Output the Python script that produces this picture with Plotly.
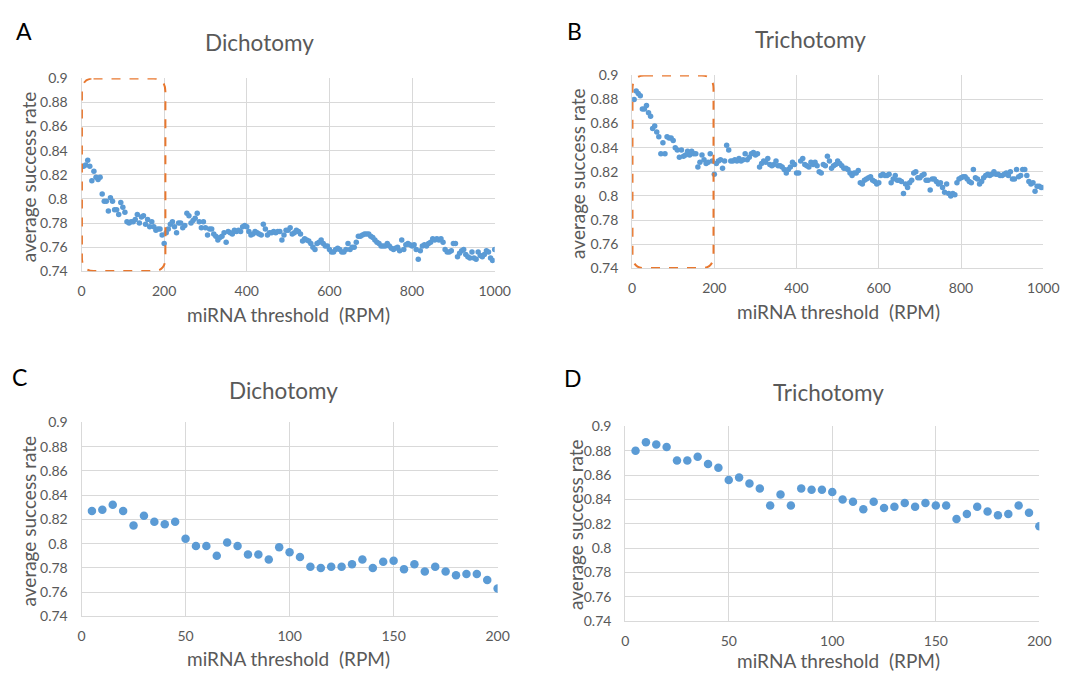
import plotly.graph_objects as go

# ---------------- data ----------------
thr_zoom = list(range(5, 201, 5))          # 5 .. 200 RPM
thr_full = list(range(5, 1001, 5))         # 5 .. 1000 RPM

dich_0_200 = [0.827, 0.828, 0.832, 0.827, 0.815, 0.823, 0.818, 0.816, 0.818, 0.804,
              0.798, 0.798, 0.790, 0.801, 0.798, 0.791, 0.791, 0.787, 0.797, 0.793,
              0.789, 0.781, 0.780, 0.781, 0.781, 0.783, 0.787, 0.780, 0.785, 0.786,
              0.779, 0.783, 0.777, 0.781, 0.777, 0.774, 0.775, 0.775, 0.770, 0.763]

trich_0_200 = [0.880, 0.887, 0.885, 0.883, 0.872, 0.872, 0.875, 0.869, 0.866, 0.856,
               0.858, 0.853, 0.849, 0.835, 0.844, 0.835, 0.849, 0.848, 0.848, 0.846,
               0.840, 0.838, 0.832, 0.838, 0.833, 0.834, 0.837, 0.834, 0.837, 0.835,
               0.835, 0.824, 0.828, 0.834, 0.830, 0.827, 0.828, 0.835, 0.829, 0.818]

dich_205_1000 = [0.772, 0.775, 0.779, 0.781, 0.777, 0.772, 0.780, 0.780, 0.776, 0.778,
                 0.788, 0.786, 0.780, 0.782, 0.784, 0.788, 0.781, 0.776, 0.781, 0.776,
                 0.770, 0.775, 0.775, 0.771, 0.769, 0.766, 0.768, 0.769, 0.772, 0.764,
                 0.773, 0.772, 0.771, 0.774, 0.773, 0.774, 0.773, 0.777, 0.778, 0.777,
                 0.773, 0.770, 0.771, 0.773, 0.772, 0.771, 0.770, 0.779, 0.775, 0.770,
                 0.772, 0.772, 0.773, 0.772, 0.773, 0.773, 0.766, 0.770, 0.774, 0.774,
                 0.776, 0.771, 0.772, 0.774, 0.773, 0.771, 0.765, 0.767, 0.766, 0.765,
                 0.763, 0.760, 0.758, 0.763, 0.764, 0.766, 0.763, 0.761, 0.761, 0.758,
                 0.756, 0.756, 0.758, 0.759, 0.758, 0.756, 0.756, 0.758, 0.763, 0.758,
                 0.760, 0.760, 0.764, 0.769, 0.769, 0.770, 0.771, 0.771, 0.771, 0.769,
                 0.768, 0.766, 0.764, 0.763, 0.761, 0.761, 0.761, 0.763, 0.761, 0.759,
                 0.758, 0.759, 0.760, 0.757, 0.766, 0.758, 0.762, 0.763, 0.762, 0.761,
                 0.762, 0.758, 0.750, 0.757, 0.761, 0.762, 0.761, 0.763, 0.764, 0.767,
                 0.766, 0.767, 0.766, 0.767, 0.764, 0.758, 0.756, 0.756, 0.757, 0.763,
                 0.763, 0.752, 0.755, 0.757, 0.758, 0.754, 0.752, 0.751, 0.756, 0.751,
                 0.750, 0.756, 0.753, 0.752, 0.754, 0.757, 0.756, 0.751, 0.749, 0.758]

trich_205_1000 = [0.827, 0.829, 0.830, 0.823, 0.829, 0.842, 0.838, 0.829, 0.829, 0.830,
                  0.829, 0.831, 0.829, 0.830, 0.835, 0.830, 0.832, 0.835, 0.836, 0.834,
                  0.835, 0.824, 0.827, 0.829, 0.828, 0.831, 0.826, 0.825, 0.826, 0.829,
                  0.825, 0.825, 0.824, 0.822, 0.819, 0.822, 0.824, 0.828, 0.826, 0.819,
                  0.819, 0.829, 0.831, 0.826, 0.825, 0.824, 0.828, 0.826, 0.828, 0.825,
                  0.820, 0.819, 0.826, 0.825, 0.833, 0.829, 0.823, 0.825, 0.826, 0.829,
                  0.827, 0.825, 0.823, 0.823, 0.822, 0.819, 0.817, 0.819, 0.819, 0.821,
                  0.811, 0.810, 0.813, 0.814, 0.815, 0.816, 0.813, 0.812, 0.810, 0.811,
                  0.817, 0.818, 0.817, 0.817, 0.818, 0.811, 0.814, 0.817, 0.813, 0.813,
                  0.812, 0.802, 0.810, 0.807, 0.811, 0.813, 0.819, 0.820, 0.815, 0.815,
                  0.817, 0.818, 0.813, 0.813, 0.805, 0.814, 0.814, 0.812, 0.810, 0.811,
                  0.807, 0.803, 0.810, 0.802, 0.800, 0.802, 0.801, 0.811, 0.814, 0.815,
                  0.816, 0.816, 0.814, 0.812, 0.811, 0.822, 0.815, 0.814, 0.810, 0.812,
                  0.815, 0.817, 0.818, 0.817, 0.818, 0.820, 0.818, 0.818, 0.817, 0.817,
                  0.818, 0.819, 0.817, 0.820, 0.814, 0.814, 0.822, 0.816, 0.817, 0.822,
                  0.822, 0.817, 0.812, 0.810, 0.811, 0.804, 0.808, 0.808, 0.807, 0.807]

dich_full = dich_0_200 + dich_205_1000
trich_full = trich_0_200 + trich_205_1000

y_ticks = [0.74, 0.76, 0.78, 0.80, 0.82, 0.84, 0.86, 0.88, 0.90]
y_tick_labels = ["0.74", "0.76", "0.78", "0.8", "0.82", "0.84", "0.86", "0.88", "0.9"]
x_ticks_full = [0, 200, 400, 600, 800, 1000]
x_ticks_zoom = [0, 50, 100, 150, 200]

panel_titles = ["Dichotomy", "Trichotomy", "Dichotomy", "Trichotomy"]
panel_letters = ["A", "B", "C", "D"]
x_title = "miRNA threshold  (RPM)"
y_title = "average success rate"

# ---------------- styling ----------------
W, H = 1074, 680
FONT = "Lato, 'Open Sans', sans-serif"
GREY = "#595959"
GRID = "#D9D9D9"
BLUE = "#5B9BD5"
ORANGE = "#E8772E"


def px(x):
    return x / W


def py(y):
    return 1 - y / H


# plot rectangles in pixels: (left, top, right, bottom)
rects = [(79, 71, 500, 269), (640, 68, 1059, 266), (79, 424, 503, 623), (633, 428, 1055, 628)]

fig = go.Figure()

series = [(thr_full, dich_full, 5.5), (thr_full, trich_full, 5.5),
          (thr_zoom, dich_0_200, 8.5), (thr_zoom, trich_0_200, 8.5)]

for i, (xs, ys, ms) in enumerate(series):
    n = "" if i == 0 else str(i + 1)
    fig.add_trace(go.Scatter(x=xs, y=ys, mode="markers", xaxis="x" + n, yaxis="y" + n,
                             marker=dict(color=BLUE, size=ms, line=dict(width=0)),
                             showlegend=False, hoverinfo="x+y"))
    l, t, r, b = rects[i]
    full = i < 2
    fig.layout["xaxis" + n] = dict(
        domain=[px(l), px(r)], anchor="y" + n,
        range=[0, 1000 if full else 200],
        tickvals=x_ticks_full if full else x_ticks_zoom,
        showgrid=True, gridcolor=GRID, gridwidth=1,
        showline=True, linecolor=GRID, linewidth=1, mirror=False,
        zeroline=False, ticks="", ticklabelstandoff=7,
        tickfont=dict(family=FONT, size=14, color=GREY),
        fixedrange=True,
    )
    fig.layout["yaxis" + n] = dict(
        domain=[py(b), py(t)], anchor="x" + n,
        range=[0.74, 0.90],
        tickvals=y_ticks, ticktext=y_tick_labels,
        showgrid=True, gridcolor=GRID, gridwidth=1,
        showline=True, linecolor=GRID, linewidth=1,
        zeroline=False, ticks="", ticklabelstandoff=10,
        tickfont=dict(family=FONT, size=14, color=GREY),
        fixedrange=True,
    )

# rounded dashed highlight boxes (panels A and B)
def rounded_box(x0, x1, y0, y1, rx, ry):
    return (f"M {x0 + rx},{y1} L {x1 - rx},{y1} Q {x1},{y1} {x1},{y1 - ry} "
            f"L {x1},{y0 + ry} Q {x1},{y0} {x1 - rx},{y0} "
            f"L {x0 + rx},{y0} Q {x0},{y0} {x0},{y0 + ry} "
            f"L {x0},{y1 - ry} Q {x0},{y1} {x0 + rx},{y1} Z")

box_ranges = [(1, 203, 0.7402, 0.8998, "x", "y"), (1, 198, 0.7402, 0.8998, "x2", "y2")]
shapes = []
for x0, x1, y0, y1, xr, yr in box_ranges:
    shapes.append(dict(type="path", xref=xr, yref=yr,
                       path=rounded_box(x0, x1, y0, y1, 28, 0.011),
                       line=dict(color=ORANGE, width=2, dash="dash"),
                       layer="above"))

# text annotations
title_pos = [(260, 34), (822, 31), (285, 391), (840, 393)]
letter_pos = [(20, 23), (581, 23), (16, 377), (580, 378)]
xt_pos = [(290, 313), (850, 310), (290, 666), (850, 668)]
yt_pos = [(25, 172), (585, 169), (25, 525), (583, 529)]

ann = []
for i in range(4):
    ann.append(dict(text=panel_titles[i], x=px(title_pos[i][0]), y=py(title_pos[i][1]),
                    xref="paper", yref="paper", showarrow=False, xanchor="center", yanchor="middle",
                    font=dict(family=FONT, size=22.5, color=GREY)))
    ann.append(dict(text=panel_letters[i], x=px(letter_pos[i][0]), y=py(letter_pos[i][1]),
                    xref="paper", yref="paper", showarrow=False, xanchor="center", yanchor="middle",
                    font=dict(family=FONT, size=23, color="#000000")))
    ann.append(dict(text=x_title, x=px(xt_pos[i][0]), y=py(xt_pos[i][1]),
                    xref="paper", yref="paper", showarrow=False, xanchor="center", yanchor="middle",
                    font=dict(family=FONT, size=19, color=GREY)))
    ann.append(dict(text=y_title, x=px(yt_pos[i][0]), y=py(yt_pos[i][1]), textangle=-90,
                    xref="paper", yref="paper", showarrow=False, xanchor="center", yanchor="middle",
                    font=dict(family=FONT, size=19, color=GREY)))

fig.update_layout(width=W, height=H, margin=dict(l=0, r=0, t=0, b=0),
                  paper_bgcolor="white", plot_bgcolor="white",
                  shapes=shapes, annotations=ann, showlegend=False)

fig.write_html("out.html", config={"displayModeBar": False})
